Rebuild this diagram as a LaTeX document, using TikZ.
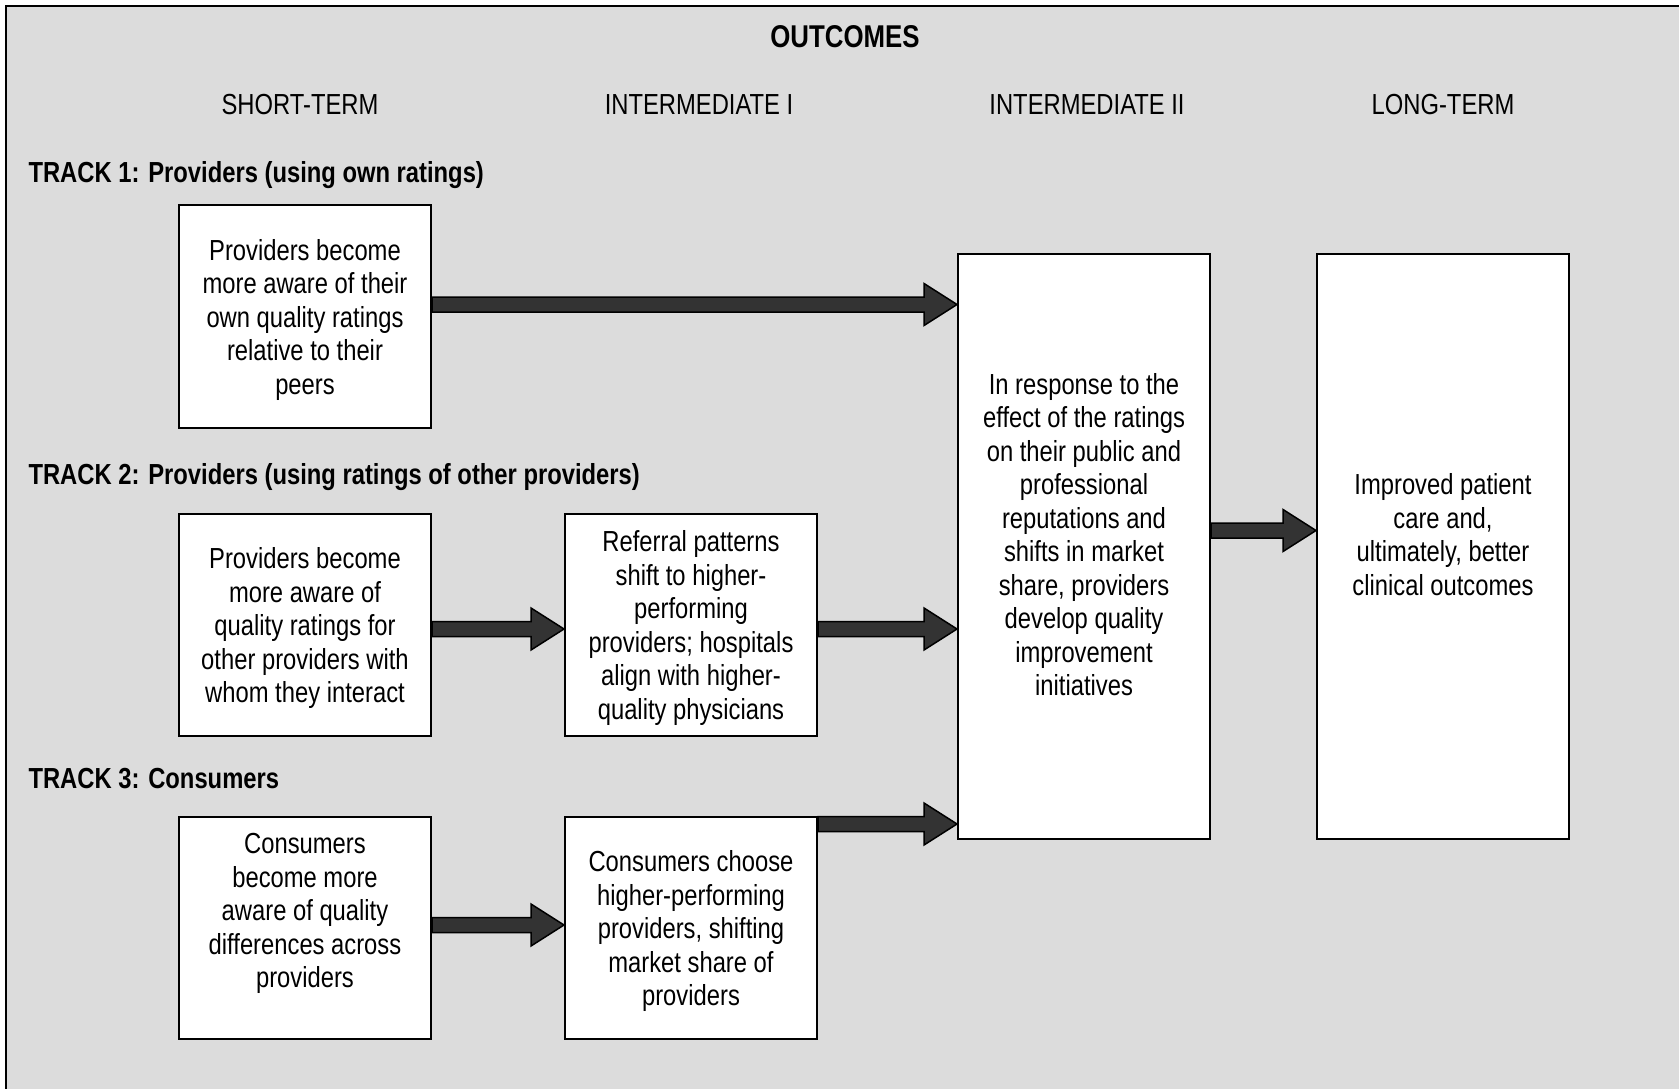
\documentclass[tikz,border=0pt]{standalone}
\usepackage{fontspec}
\setmainfont{Liberation Sans}[FakeStretch=0.82]
\usetikzlibrary{calc,positioning}
\definecolor{panelgray}{HTML}{DCDCDC}
\definecolor{arrowgray}{HTML}{333333}

\tikzset{
  every node/.style={font=\fontsize{29}{33.5}\selectfont},
  box/.style={draw, line width=2pt, fill=white, anchor=north west, minimum width=252pt, align=center, inner sep=0pt},
  shortbox/.style={box, minimum height=222pt, text depth=-3pt},
  tallbox/.style={box, minimum height=585pt, text depth=24pt},
  colhead/.style={font=\fontsize{29}{33.5}\selectfont},
  tracklabel/.style={font=\bfseries\fontsize{29}{33.5}\selectfont, anchor=west},
  blockarrow/.style={draw=black, line width=1.5pt, fill=arrowgray, line join=miter},
}

% block arrow from #1 to the x of #2, at the height of #1
\newcommand{\blockarrow}[2]{%
  \draw[blockarrow] let \p1=(#1), \p2=(#2) in
    (\x1,\y1+7.5pt) -- (\x2-33pt,\y1+7.5pt) -- (\x2-33pt,\y1+21pt) -- (\x2,\y1)
    -- (\x2-33pt,\y1-21pt) -- (\x2-33pt,\y1-7.5pt) -- (\x1,\y1-7.5pt) -- cycle;}

\begin{document}
\begin{tikzpicture}[x=1pt, y=-1pt]
  \useasboundingbox (0,0) rectangle (1679,1089);
  % --- Panel ---
  \fill[panelgray] (6,6) rectangle (1700,1110);
  \draw[line width=2.5pt] (6,6) rectangle (1700,1110);

  % --- Headings ---
  \node[font=\bfseries\fontsize{31.5}{36}\selectfont] (outcomes) at (845,37) {OUTCOMES};
  \node[colhead] (hshort) at (300,105) {SHORT-TERM};
  \node[colhead] (hint1) at (699,105) {INTERMEDIATE I};
  \node[colhead] (hint2) at (1087,105) {INTERMEDIATE II};
  \node[colhead] (hlong) at (1443,105) {LONG-TERM};

  % --- Track labels ---
  \node[tracklabel] (track1) at (25,175) {TRACK 1: Providers (using own ratings)};
  \node[tracklabel] (track2) at (25,477) {TRACK 2: Providers (using ratings of other providers)};
  \node[tracklabel] (track3) at (25,779) {TRACK 3: Consumers};

  % --- Track 1 ---
  \node[shortbox, minimum height=223pt] (own) at (178,204)
    {Providers become\\more aware of their\\own quality ratings\\relative to their\\peers};

  % --- Track 2 ---
  \node[shortbox] (others) at (178,513)
    {Providers become\\more aware of\\quality ratings for\\other providers with\\whom they interact};
  \node[shortbox] (referral) at (564,513)
    {Referral patterns\\shift to higher-\\performing\\providers; hospitals\\align with higher-\\quality physicians};

  % --- Track 3 ---
  \node[shortbox, text depth=35pt] (consumers) at (178,816)
    {Consumers\\become more\\aware of quality\\differences across\\providers};
  \node[shortbox] (choose) at (564,816)
    {Consumers choose\\higher-performing\\providers, shifting\\market share of\\providers};

  % --- Intermediate II and long-term ---
  \node[tallbox] (response) at (957,253)
    {In response to the\\effect of the ratings\\on their public and\\professional\\reputations and\\shifts in market\\share, providers\\develop quality\\improvement\\initiatives};
  \node[tallbox] (improved) at (1316,253)
    {Improved patient\\care and,\\ultimately, better\\clinical outcomes};

  % --- Arrows ---
  \blockarrow{$(own.east)+(0,-12)$}{response.west}
  \blockarrow{$(others.east)+(0,4)$}{referral.west}
  \blockarrow{$(referral.east)+(0,4)$}{response.west}
  \blockarrow{$(consumers.east)+(0,-3)$}{choose.west}
  \blockarrow{$(choose.north east)+(0,8)$}{response.west}
  \blockarrow{$(response.east)+(0,-16)$}{improved.west}
\end{tikzpicture}
\end{document}
